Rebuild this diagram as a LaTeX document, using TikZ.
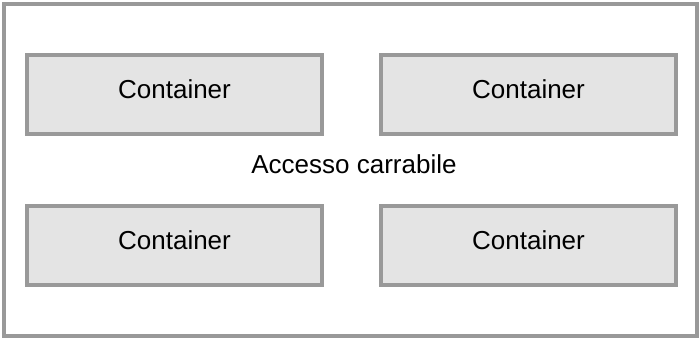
\documentclass[tikz,border=0pt]{standalone}
\usepackage{fontspec}
\setmainfont{Liberation Sans}
\usetikzlibrary{positioning}
\definecolor{bordo}{RGB}{153,153,153}
\definecolor{riemp}{RGB}{228,228,228}

\begin{document}
\begin{tikzpicture}[x=1pt, y=-1pt, font=\fontsize{26}{30}\selectfont,
  cont/.style={draw=bordo, line width=4pt, fill=riemp, outer sep=0pt,
    minimum width=295pt, minimum height=79pt, text height=19pt, text depth=11pt}]
\useasboundingbox (0,0) rectangle (699,338);
% area
\draw[bordo, line width=4pt] (4,3.5) rectangle (697,335.5);
% containers
\node[cont, anchor=north west] (c1) at (27,54.5) {Container};
\node[cont, right=59pt of c1] (c2) {Container};
\node[cont, below=72pt of c1] (c3) {Container};
\node[cont, right=59pt of c3] (c4) {Container};
% passage
\node (acc) at (354,164) {Accesso carrabile};
\end{tikzpicture}
\end{document}
